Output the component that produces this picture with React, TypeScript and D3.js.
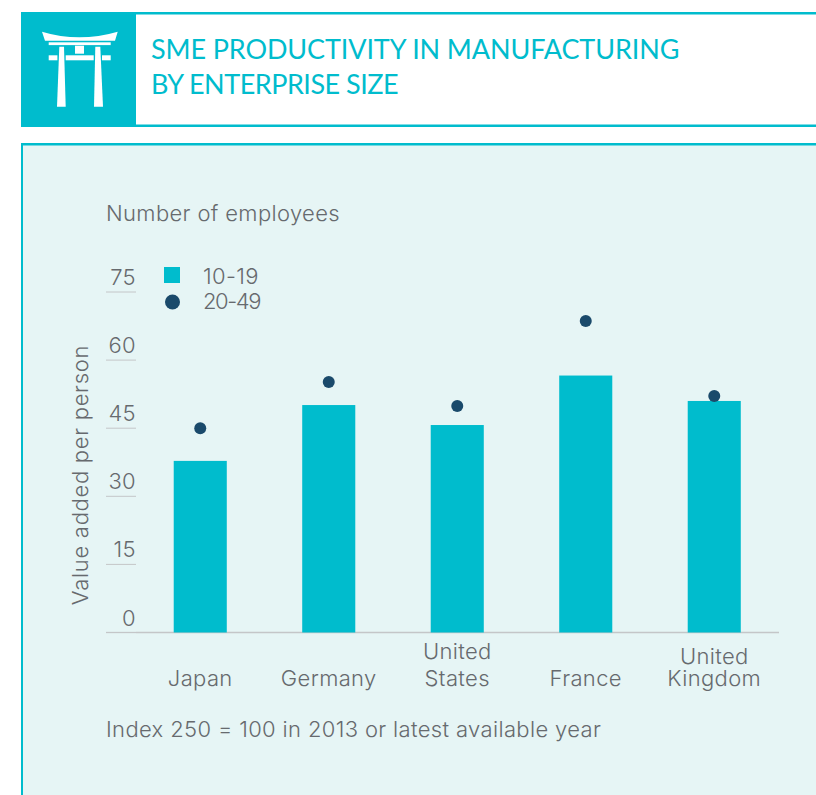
import React from "react";
import * as d3 from "d3";

const countries = ["Japan", "Germany", "United States", "France", "United Kingdom"];
const small = [37.8, 50.1, 45.7, 56.6, 51];
const medium = [45, 55.2, 49.9, 68.6, 52.1];
const ticks = [0, 15, 30, 45, 60, 75];

const TEAL = "#00bccd";
const NAVY = "#1a4a6b";
const GREY = "#666a6e";
const FONT = "Inter, sans-serif";

const y = d3.scaleLinear().domain([0, 75]).range([632.5, 292]);
const x = d3.scaleBand<string>().domain(countries).range([136, 778.5]).paddingInner(0.587).paddingOuter(0.2935);

const labelLines: Record<string, string[]> = {
  "United States": ["United", "States"],
  "United Kingdom": ["United", "Kingdom"],
};
const labelY: Record<string, number[]> = {
  "United States": [659, 686],
  "United Kingdom": [664, 686],
};

// Gate emblem in the header block
function Torii() {
  return (
    <g fill="#fff">
      <path d="M42 31.7 Q79 43 117.7 31.7 L115 40.7 H45 Z" />
      <rect x={48.7} y={42.3} width={62} height={2.8} />
      <rect x={75} y={45.7} width={9} height={8} />
      <rect x={48.7} y={55.3} width={8.7} height={5} />
      <rect x={65.7} y={55.3} width={28} height={5} />
      <rect x={102} y={55.3} width={8.7} height={5} />
      <path d="M59.3 46.7 H64 L65.7 106.7 H57 Z" />
      <path d="M95.3 46.7 H100.3 L103 106.7 H94 Z" />
    </g>
  );
}

export default function App() {
  return (
    <svg
      width={816}
      height={795}
      style={{ position: "absolute", left: 0, top: 0, background: "#fff" }}
      fontFamily={FONT}
      fontWeight={300}
    >
      {/* Header */}
      <rect x={21} y={12} width={115} height={115} fill={TEAL} />
      <rect x={136} y={12} width={680} height={2.5} fill={TEAL} />
      <rect x={136} y={124.5} width={680} height={2.5} fill={TEAL} />
      <Torii />
      <text x={151} y={59} fontSize={27} letterSpacing={-0.12} fill={TEAL} fontFamily="Lato, sans-serif" fontWeight={400}>
        SME PRODUCTIVITY IN MANUFACTURING
      </text>
      <text x={151} y={94} fontSize={27} letterSpacing={-0.5} fill={TEAL} fontFamily="Lato, sans-serif" fontWeight={400}>
        BY ENTERPRISE SIZE
      </text>

      {/* Panel */}
      <rect x={21} y={143} width={795} height={652} fill={TEAL} />
      <rect x={23} y={145.5} width={793} height={650} fill="#e6f5f5" />

      <g fontSize={22} fill={GREY} letterSpacing={0.35}>
        <text x={106} y={221}>Number of employees</text>

        {/* Value axis */}
        {ticks.map((t) => (
          <g key={t}>
            <line x1={106} x2={136} y1={y(t)} y2={y(t)} stroke="#c4c6c8" strokeWidth={t === 0 ? 1.3 : 1} />
            <text x={136} y={y(t) - 7} textAnchor="end">{t}</text>
          </g>
        ))}
        <line x1={136} x2={779} y1={y(0)} y2={y(0)} stroke="#c4c6c8" strokeWidth={1.3} />
        <text transform="translate(88,475) rotate(-90)" textAnchor="middle" letterSpacing={0.7}>
          Value added per person
        </text>

        {/* Legend */}
        <rect x={164} y={267} width={16} height={16} fill={TEAL} />
        <circle cx={172.5} cy={302} r={7.5} fill={NAVY} />
        <text x={203} y={283.5}>10-19</text>
        <text x={203} y={309} letterSpacing={-1.4}>20-49</text>

        {/* Bars and dots */}
        {countries.map((c, i) => {
          const cx = x(c)! + x.bandwidth() / 2;
          const lines = labelLines[c] ?? [c];
          const ys = labelY[c] ?? [686];
          return (
            <g key={c}>
              <rect x={x(c)} y={y(small[i])} width={x.bandwidth()} height={y(0) - y(small[i])} fill={TEAL} />
              <circle cx={cx} cy={y(medium[i])} r={6} fill={NAVY} />
              {lines.map((l, j) => (
                <text key={l} x={cx} y={ys[j]} textAnchor="middle">{l}</text>
              ))}
            </g>
          );
        })}

        <text x={106} y={737}>Index 250 = 100 in 2013 or latest available year</text>
      </g>
    </svg>
  );
}
